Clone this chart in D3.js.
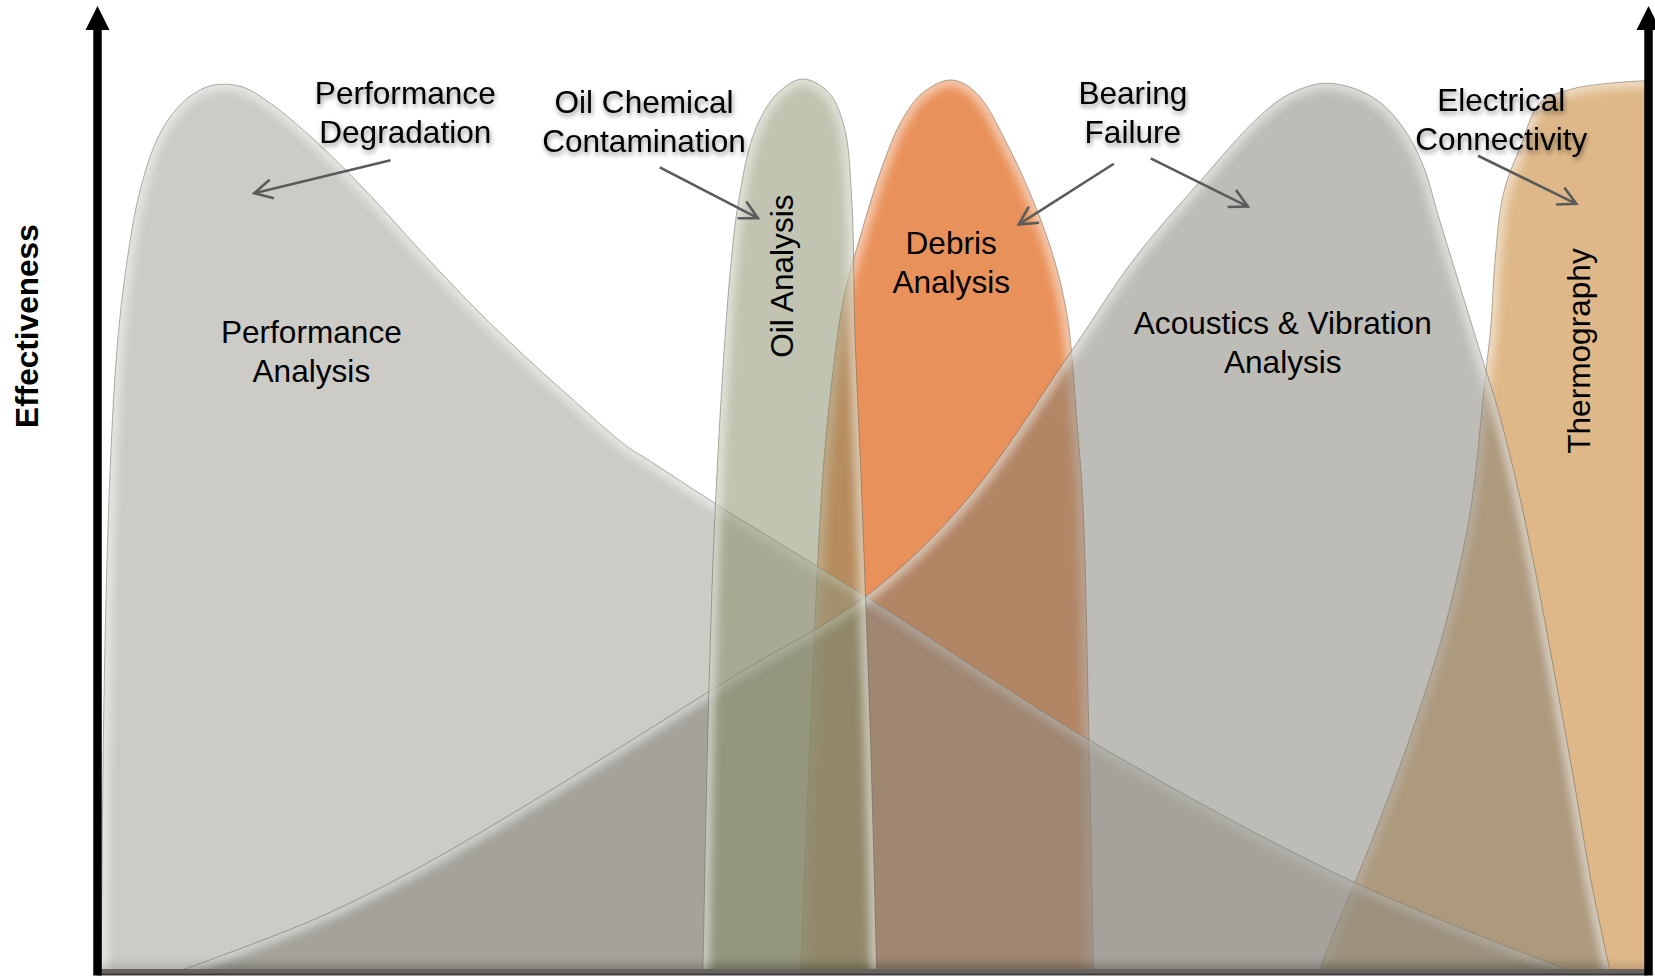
<!DOCTYPE html>
<html>
<head>
<meta charset="utf-8">
<script src="https://cdn.jsdelivr.net/npm/d3@7"></script>
<style>
  html, body { margin: 0; padding: 0; background: #fff; }
  svg { display: block; }
  text { font-family: "Liberation Sans", Arial, Helvetica, sans-serif; }
</style>
</head>
<body>
<svg id="chart" width="1655" height="976"></svg>
<script>
// Effectiveness (0–100) of each condition-monitoring technique along the
// progression of a developing fault (0–100).  Each list is [stage, effectiveness].
const performanceAnalysis = [
  [0.27, 0], [0.41, 26.0], [0.61, 43.8], [0.89, 58.0], [1.29, 69.8], [1.91, 79.3],
  [2.79, 87.6], [3.95, 93.5], [5.31, 97.0], [6.68, 98.8], [7.83, 99.4], [9.40, 99.1],
  [11.1, 97.4], [14.2, 92.9], [17.6, 87.0], [21.0, 80.5], [24.4, 74.3], [27.8, 68.6],
  [29.9, 65.3], [34.2, 58.8], [35.3, 57.6], [40.0, 52.3], [49.6, 42.0], [64.7, 25.2],
  [81.3, 9.8], [95.1, 0]
];
const acousticsVibration = [
  [5.31, 0], [14.17, 5.9], [20.98, 11.8], [27.79, 18.7], [34.6, 26.0], [41.4, 33.4],
  [49.6, 42.0], [56.1, 52.8], [62.9, 69.6], [66.9, 79.8], [71.2, 88.6], [74.8, 95.5],
  [76.8, 98.2], [79.0, 99.5], [80.93, 99.05], [82.77, 97.4], [84.33, 94.4], [85.56, 90.3],
  [86.6, 84.3], [89.4, 68.5], [90.46, 62.5], [91.55, 55.0], [92.64, 46.2], [93.87, 34.9],
  [95.23, 21.9], [96.46, 9.5], [97.62, 0]
];
const oilAnalysis = [
  [39.1, 0], [39.4, 26.0], [39.8, 48.5], [40.4, 68.0], [40.9, 79.3], [41.4, 86.4],
  [42.4, 94.0], [43.8, 98.2], [45.5, 100], [47.2, 98.5], [48.2, 94.7], [48.7, 86.4],
  [48.9, 71.5], [49.3, 55.0], [49.9, 26.0], [50.3, 0]
];
const debrisAnalysis = [
  [45.4, 0], [46.0, 26.0], [46.8, 55.0], [47.5, 67.5], [48.2, 75.7], [49.3, 82.7],
  [50.6, 89.9], [51.9, 95.3], [53.3, 98.5], [55.1, 99.9], [56.7, 98.5], [58.9, 92.1],
  [60.8, 84.6], [61.9, 78.9], [62.6, 73.4], [62.9, 68.9], [63.2, 62.1], [63.6, 52.8],
  [64.0, 26.0], [64.3, 0]
];
const thermography = [
  [78.88, 0], [79.36, 2.4], [82.15, 14.2], [84.67, 26.0], [86.85, 37.9], [88.42, 49.7],
  [89.03, 57.3], [89.44, 64.7], [89.92, 72.2], [90.2, 79.8], [90.74, 87.2], [91.83, 92.4],
  [93.1, 97.3], [95.2, 98.9], [97.4, 99.5], [99.8, 99.8], [101.5, 99.9]
];

// Failure modes called out above the curves: [from, to] in the same units
const failureModeArrows = [
  [[18.94, 90.9], [10.15, 87.2]],   // Performance Degradation
  [[36.31, 90.1], [42.64, 84.4]],   // Oil Chemical Contamination
  [[65.6, 90.5], [59.47, 83.7]],    // Bearing Failure -> debris
  [[67.98, 91.1], [74.25, 85.7]],   // Bearing Failure -> vibration
  [[89.1, 91.4], [95.44, 86.0]]     // Electrical Connectivity
];
const failureModes = [
  ["Performance", "Degradation"],
  ["Oil Chemical", "Contamination"],
  ["Bearing", "Failure"],
  ["Electrical", "Connectivity"]
];
const techniqueNames = [
  ["Performance", "Analysis"],
  ["Debris", "Analysis"],
  ["Acoustics & Vibration", "Analysis"]
];
const verticalNames = ["Oil Analysis", "Thermography"];
const axisTitle = "Effectiveness";

// ---- layout & styling -------------------------------------------------------
const W = 1655, H = 976;
const FONT = 31.6, LEAD = 39;
const x = d3.scaleLinear().domain([0, 100]).range([97, 1647]);
const y = d3.scaleLinear().domain([0, 100]).range([971, 79]);

const svg = d3.select("#chart");
const defs = svg.append("defs");

defs.append("filter").attr("id", "soften")
  .attr("filterUnits", "userSpaceOnUse")
  .attr("x", 0).attr("y", 0).attr("width", W).attr("height", H)
  .append("feGaussianBlur").attr("stdDeviation", 4);

const shadow = defs.append("filter").attr("id", "labelShadow")
  .attr("filterUnits", "userSpaceOnUse")
  .attr("x", 0).attr("y", 0).attr("width", W).attr("height", H);
shadow.append("feGaussianBlur").attr("in", "SourceAlpha").attr("stdDeviation", 2.4);
shadow.append("feOffset").attr("dx", 1).attr("dy", 3);
shadow.append("feComponentTransfer").append("feFuncA").attr("type", "linear").attr("slope", 0.45);
const sm = shadow.append("feMerge");
sm.append("feMergeNode");
sm.append("feMergeNode").attr("in", "SourceGraphic");

defs.append("clipPath").attr("id", "plotArea")
  .append("rect")
  .attr("x", x(0)).attr("y", 0)
  .attr("width", x(100) - x(0)).attr("height", y(0));

defs.append("marker").attr("id", "openHead")
  .attr("markerUnits", "userSpaceOnUse")
  .attr("viewBox", "-22 -12 26 24")
  .attr("refX", 0).attr("refY", 0)
  .attr("markerWidth", 26).attr("markerHeight", 24)
  .attr("orient", "auto")
  .append("path")
  .attr("d", "M-18,-9.5 L0,0 L-18,9.5")
  .attr("fill", "none").attr("stroke", "#5b5b5b")
  .attr("stroke-width", 2.6).attr("stroke-linejoin", "miter");

const smooth = d3.curveCatmullRom.alpha(0.5);
const area = d3.area()
  .x(d => x(d[0])).y0(y(0)).y1(d => y(d[1]))
  .curve(smooth);
const ridge = d3.line()
  .x(d => x(d[0])).y(d => y(d[1]))
  .curve(smooth);

// drawing order, bottom to top
const layers = [
  { points: debrisAnalysis,      fill: "#e9915a",          opacity: 1 },
  { points: thermography,        fill: "#deb888",          opacity: 1 },
  { points: performanceAnalysis, fill: "rgb(155,151,141)", opacity: 0.5 },
  { points: acousticsVibration,  fill: "rgb(123,121,111)", opacity: 0.5 },
  { points: oilAnalysis,         fill: "rgb(131,137,97)",  opacity: 0.5 }
];

const plot = svg.append("g").attr("clip-path", "url(#plotArea)");

layers.forEach((L, i) => {
  const id = "shape" + i;
  defs.append("clipPath").attr("id", id).append("path").attr("d", area(L.points));

  const g = plot.append("g");
  g.append("path")
    .attr("d", area(L.points))
    .attr("fill", L.fill)
    .attr("fill-opacity", L.opacity);

  // bevel: light rim under the ridge, darker foot along the base
  const inner = g.append("g").attr("clip-path", `url(#${id})`);
  inner.append("path")
    .attr("d", ridge(L.points))
    .attr("fill", "none").attr("stroke", "#ffffff")
    .attr("stroke-width", 13).attr("stroke-opacity", 0.5)
    .attr("filter", "url(#soften)");
  const ends = d3.extent(L.points, d => d[0]);
  inner.append("line")
    .attr("x1", x(ends[0])).attr("x2", x(ends[1]))
    .attr("y1", y(0)).attr("y2", y(0))
    .attr("stroke", "#000").attr("stroke-opacity", 0.14)
    .attr("stroke-width", 14).attr("filter", "url(#soften)");

  g.append("path")
    .attr("d", ridge(L.points))
    .attr("fill", "none").attr("stroke", "#5d5a50")
    .attr("stroke-opacity", 0.45).attr("stroke-width", 1);
});

// ---- axes ---------------------------------------------------------------------
const baseY = y(0);
svg.append("line")
  .attr("x1", x(0)).attr("x2", x(100))
  .attr("y1", baseY + 0.5).attr("y2", baseY + 0.5)
  .attr("stroke", "#67645f").attr("stroke-width", 5);
svg.append("line")
  .attr("x1", x(0)).attr("x2", x(100))
  .attr("y1", baseY + 3.5).attr("y2", baseY + 3.5)
  .attr("stroke", "#3c3b39").attr("stroke-width", 2);

[x(0) + 0.5, x(100) + 1.5].forEach(ax => {
  svg.append("line")
    .attr("x1", ax).attr("x2", ax)
    .attr("y1", baseY + 4.5).attr("y2", 26)
    .attr("stroke", "#000").attr("stroke-width", 8.5);
  svg.append("path")
    .attr("d", `M${ax},6 L${ax - 12},30 L${ax + 12},30 Z`)
    .attr("fill", "#000");
});

// axis title
svg.append("text")
  .attr("transform", `translate(${x(-4.56)},${y(72.3)}) rotate(-90)`)
  .attr("text-anchor", "middle").attr("dy", "0.36em")
  .attr("font-size", FONT).attr("font-weight", "bold")
  .attr("fill", "#000")
  .text(axisTitle);

// ---- labels ---------------------------------------------------------------------
function multiline(sel, lines) {
  lines.forEach((t, k) => {
    sel.append("tspan").attr("x", sel.attr("x")).attr("dy", k === 0 ? 0 : LEAD).text(t);
  });
}

const techniqueAt = [[13.83, 70.4], [55.11, 80.4], [76.5, 71.4]];
techniqueNames.forEach((lines, i) => {
  const t = svg.append("text")
    .attr("x", x(techniqueAt[i][0])).attr("y", y(techniqueAt[i][1]))
    .attr("text-anchor", "middle").attr("font-size", FONT).attr("fill", "#000");
  multiline(t, lines);
});

const verticalAt = [[44.14, 77.9], [95.57, 69.5]];
verticalNames.forEach((name, i) => {
  svg.append("text")
    .attr("transform", `translate(${x(verticalAt[i][0])},${y(verticalAt[i][1])}) rotate(-90)`)
    .attr("text-anchor", "middle").attr("dy", "0.36em")
    .attr("font-size", FONT).attr("fill", "#000")
    .text(name);
});

// failure-mode call-outs with their arrows
svg.append("g").selectAll("line")
  .data(failureModeArrows)
  .join("line")
  .attr("x1", d => x(d[0][0])).attr("y1", d => y(d[0][1]))
  .attr("x2", d => x(d[1][0])).attr("y2", d => y(d[1][1]))
  .attr("stroke", "#5b5b5b").attr("stroke-width", 2.6)
  .attr("marker-end", "url(#openHead)");

const failureAt = [[19.89, 97.2], [35.29, 96.2], [66.83, 97.2], [90.6, 96.4]];
failureModes.forEach((lines, i) => {
  const t = svg.append("text")
    .attr("x", x(failureAt[i][0])).attr("y", y(failureAt[i][1]))
    .attr("text-anchor", "middle").attr("font-size", FONT).attr("fill", "#000")
    .attr("filter", "url(#labelShadow)");
  multiline(t, lines);
});
</script>
</body>
</html>
